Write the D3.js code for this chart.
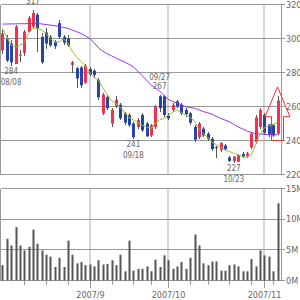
<!DOCTYPE html>
<html>
<head>
	<title>Daily Candles</title>
	<style type="text/css">
		body {
			margin: 0;
			background: #fff;
		}

		svg text {
			font-family: "Liberation Sans Narrow", "DejaVu Sans Condensed", sans-serif;
			font-size: 9px;
			fill: #666;
		}

		svg text.note {
			font-size: 8px;
		}

		.grid line {
			stroke: #999;
			shape-rendering: crispEdges;
		}

		.month line {
			stroke: #c8c8c8;
			stroke-width: 1.5;
		}

		.wick {
			stroke: #555;
			shape-rendering: crispEdges;
		}

	</style>
	<script src="https://d3js.org/d3.v7.min.js"></script>
</head>
<body>
<script type="text/javascript">
	var dates = [
		"2007-08-06","2007-08-07","2007-08-08","2007-08-09","2007-08-10","2007-08-13","2007-08-14","2007-08-15","2007-08-16","2007-08-17",
		"2007-08-20","2007-08-21","2007-08-22","2007-08-23","2007-08-24","2007-08-27","2007-08-28","2007-08-29","2007-08-30","2007-08-31",
		"2007-09-03","2007-09-04","2007-09-05","2007-09-06","2007-09-07","2007-09-10","2007-09-11","2007-09-12","2007-09-13","2007-09-14",
		"2007-09-18","2007-09-19","2007-09-20","2007-09-21","2007-09-25","2007-09-26","2007-09-27","2007-09-28",
		"2007-10-01","2007-10-02","2007-10-03","2007-10-04","2007-10-05","2007-10-09","2007-10-10","2007-10-11","2007-10-12",
		"2007-10-15","2007-10-16","2007-10-17","2007-10-18","2007-10-19","2007-10-22","2007-10-23","2007-10-24","2007-10-25","2007-10-26",
		"2007-10-29","2007-10-30","2007-10-31","2007-11-01","2007-11-02","2007-11-05","2007-11-06"];

	var opens  = [293,300,297,285,290,291.5,304,307,314,301, 303.5,301,298,309,301,300,284.5,282.5,283,274,
		282,281,275.5,256,265.5,250,260,261,256,255, 250,248,255,250,243,248,266,266,
		254.5,258,263,261,258,256,248,242,247, 244,241,236,234.5,237,230,228,227.5,232,231, 236,239,248,255,249.5,249,244];
	var highs  = [305,302,299,308,293,305,313,317,315,303, 306,302,299,311,302,302,287,283,284,285,
		283,282,277,268,266.5,259,266,262,257,256, 251,253,256,251,250,261,267,266.5,
		256,262,264,262,259,257,249,251,248, 245,242,237,239,238,231,231,232,233,233, 245,255,259,256,250,250,266];
	var lows   = [291,286,284,285,286,290,303,306,292,285, 294,295,294,300,296,295,280,271,271,273,
		278,277,264,255,258,248,259,252,249,248, 241,247,245,242,242,247,257,254,
		252,257,259,255,254,249,239,241,242, 240,234,230,233,234,227.5,227,227.5,229.5,230, 235,238,247,243,242,242,243];
	var closes = [303,287,286,307,290.5,304,312,315,306,286, 297,296,295.5,301,297.5,296,286,276.5,272.5,284,
		279,278.5,265.5,267,259,258,264,253,250.5,249, 242,252,246,242.5,249,260,259,255,
		253,261,260,256,255.5,250.5,240.5,250,243, 241,235,235.5,238.5,235,228,230.5,231.5,230.5,232.5, 244,253.5,258,244.5,243.5,243,263.5];

	// millions of shares
	var volumes = [2.5,6.8,5.7,8.7,5.7,4.9,5.5,8.3,6.0,4.9, 4.2,3.9,2.2,3.7,2.2,6.5,4.2,2.8,3.0,2.5,
		2.6,2.3,3.3,2.6,2.7,3.3,2.5,4.2,1.5,6.5, 1.6,1.9,1.9,2.3,1.5,3.4,2.2,4.1,
		3.3,1.9,2.3,3.0,1.9,3.7,7.5,5.7,2.8, 2.5,3.1,3.1,1.6,1.6,2.5,2.6,2.3,1.5,1.5, 3.5,2.3,4.9,4.1,3.9,1.5,12.6];

	var ma5 = [306,301,296,295,296,297.5,303,306,306,305, 303,300,298,298,300,297,292.5,289,286.5,284,
		280,277,275.5,271,267,263.5,261.5,259.5,256.5,253.5, 252,250.5,249,248,247,250,252,253,
		255,256.5,258,256.5,255,253.5,251.5,246.5,244, 242,239,237.5,236,234.5,233.5,232.5,231.5,230.5,230, 231.5,237.5,243.5,247.5,248.5,249.5,250.5];
	var ma25 = [308.5,308.5,308.6,308.6,308.7,308.7,308.8,308.9,308.8,308.6, 308.2,307.9,307.5,307,306.5,306,305,304,303,301.5,
		300,297.5,294.5,292.5,291,289.8,288.5,287.3,286.2,284.8, 283.3,280.8,278.2,275.5,272.8,271,269,266.5,
		264.2,263,262,261,259.8,259.4,259,258,257, 256.3,255.5,254.2,253,252,251,249.5,248,246.8,245.5, 244.8,244,243.8,243.6,243.5,243.4,243.4];

	var priceTicks = [220, 240, 260, 280, 300, 320];
	var volumeTicks = [0, 5, 10, 15];

	var notes = [
		{date: "2007-08-15", value: 317, kind: "high"},
		{date: "2007-08-08", value: 284, kind: "low"},
		{date: "2007-09-27", value: 267, kind: "high"},
		{date: "2007-09-18", value: 241, kind: "low"},
		{date: "2007-10-23", value: 227, kind: "low"}
	];

	var marker = {date: "2007-11-06", tip: 271.5, head: 254, base: 240};

	var svg = d3.select("body").append("svg")
			.attr("width", 300)
			.attr("height", 300);

	var plotLeft = 0.5, plotRight = 281.5;

	var x = d3.scalePoint().domain(dates).range([2.4, 277.5]),
		y = d3.scaleLinear().domain([220, 320]).range([174.5, 4.5]),
		yv = d3.scaleLinear().domain([0, 15]).range([280.5, 188.5]);

	var bars = dates.map(function(d, i) {
		return {date: d, o: opens[i], h: highs[i], l: lows[i], c: closes[i], v: volumes[i], m5: ma5[i], m25: ma25[i]};
	});

	var parse = d3.timeParse("%Y-%m-%d");
	var monthStarts = dates.filter(function(d, i) { return i > 0 && parse(d).getMonth() != parse(dates[i-1]).getMonth(); });
	var weekStarts = dates.filter(function(d, i) { return i > 0 && parse(d).getDay() < parse(dates[i-1]).getDay() && monthStarts.indexOf(d) < 0; });

	function px(d) { return Math.round(x(d)); }

	// month separators in both panels
	[[y(320), y(220)], [yv(15), yv(0)]].forEach(function(r) {
		svg.append("g").attr("class", "month")
			.selectAll("line").data(monthStarts).enter().append("line")
				.attr("x1", function(d) { return px(d); })
				.attr("x2", function(d) { return px(d); })
				.attr("y1", r[0])
				.attr("y2", r[1]);
	});

	// grid, frames and right axis
	var grid = svg.append("g").attr("class", "grid");
	grid.selectAll(".h").data(priceTicks).enter().append("line")
		.attr("x1", plotLeft).attr("x2", plotRight + 3)
		.attr("y1", function(d) { return y(d); })
		.attr("y2", function(d) { return y(d); });
	grid.selectAll(".hv").data(volumeTicks).enter().append("line")
		.attr("x1", plotLeft).attr("x2", plotRight + 3)
		.attr("y1", function(d) { return yv(d); })
		.attr("y2", function(d) { return yv(d); });
	[[y(320), y(220)], [yv(15), yv(0)]].forEach(function(r) {
		grid.append("line").attr("x1", plotLeft).attr("x2", plotLeft).attr("y1", r[0]).attr("y2", r[1]);
		grid.append("line").attr("x1", plotRight).attr("x2", plotRight).attr("y1", r[0]).attr("y2", r[1]);
	});

	// bottom axis ticks: weeks short, months long
	grid.selectAll(".wk").data(weekStarts).enter().append("line")
		.attr("x1", function(d) { return px(d) + 0.5; })
		.attr("x2", function(d) { return px(d) + 0.5; })
		.attr("y1", yv(0)).attr("y2", yv(0) + 4);
	grid.selectAll(".mo").data(monthStarts).enter().append("line")
		.attr("x1", function(d) { return px(d) + 0.5; })
		.attr("x2", function(d) { return px(d) + 0.5; })
		.attr("y1", yv(0)).attr("y2", yv(0) + 7);

	svg.selectAll(".plabel").data(priceTicks).enter().append("text")
		.attr("x", plotRight + 4.5)
		.attr("y", function(d) { return y(d); })
		.attr("dy", "0.35em")
		.text(function(d) { return d; });
	svg.selectAll(".vlabel").data(volumeTicks).enter().append("text")
		.attr("x", plotRight + 4.5)
		.attr("y", function(d) { return yv(d); })
		.attr("dy", "0.35em")
		.text(function(d) { return d + "M"; });
	var monthFmt = d3.timeFormat("%Y/%-m");
	svg.selectAll(".mlabel").data(monthStarts).enter().append("text")
		.attr("x", function(d) { return px(d) + 0.5; })
		.attr("y", 298)
		.attr("text-anchor", "middle")
		.text(function(d) { return monthFmt(parse(d)); });

	// volume
	svg.append("g").selectAll("rect").data(bars).enter().append("rect")
		.attr("x", function(d) { return px(d.date) - 0.5; })
		.attr("width", 2)
		.attr("y", function(d) { return yv(d.v); })
		.attr("height", function(d) { return yv(0) - yv(d.v); })
		.attr("fill", "#555");

	// candles
	var candle = svg.append("g").selectAll("g").data(bars).enter().append("g");
	candle.append("line").attr("class", "wick")
		.attr("x1", function(d) { return px(d.date) + 0.5; })
		.attr("x2", function(d) { return px(d.date) + 0.5; })
		.attr("y1", function(d) { return y(d.h); })
		.attr("y2", function(d) { return y(d.l); });
	candle.append("rect")
		.attr("x", function(d) { return px(d.date) - 1; })
		.attr("width", 3)
		.attr("y", function(d) { return y(Math.max(d.o, d.c)); })
		.attr("height", function(d) { return Math.max(1, Math.abs(y(d.o) - y(d.c))); })
		.attr("fill", function(d) { return d.c >= d.o ? "#f2304e" : "#2444a8"; });

	// moving averages
	var line5 = d3.line().x(function(d) { return x(d.date); }).y(function(d) { return y(d.m5); });
	var line25 = d3.line().x(function(d) { return x(d.date); }).y(function(d) { return y(d.m25); });
	svg.append("path").datum(bars).attr("d", line25).attr("fill", "none").attr("stroke", "#a030f0").attr("stroke-width", 1);
	svg.append("path").datum(bars).attr("d", line5).attr("fill", "none").attr("stroke", "#9bbb3a").attr("stroke-width", 1);

	// high / low notes (a date that would sit above the picture is left out)
	var fmt = d3.timeFormat("%m/%d");
	notes.forEach(function(n) {
		var cx = x(n.date), cy = y(n.value), hi = n.kind == "high";
		svg.append("text").attr("class", "note").attr("x", cx).attr("y", hi ? cy - 6 : cy + 8.5)
			.attr("text-anchor", "middle").text(n.value);
		var dy = hi ? cy - 15 : cy + 19;
		if (dy > 8) {
			svg.append("text").attr("class", "note").attr("x", cx).attr("y", dy)
				.attr("text-anchor", "middle").text(fmt(parse(n.date)));
		}
	});

	// arrow on the latest candle
	var ax = x(marker.date), hw = 12.5, sw = 6;
	svg.append("path")
		.attr("d", d3.line()([
			[ax, y(marker.tip)], [ax + hw, y(marker.head)], [ax + sw, y(marker.head)], [ax + sw, y(marker.base)],
			[ax - sw, y(marker.base)], [ax - sw, y(marker.head)], [ax - hw, y(marker.head)]]) + "Z")
		.attr("fill", "none")
		.attr("stroke", "#f03030")
		.attr("stroke-width", 1);

</script>
</body>
</html>
